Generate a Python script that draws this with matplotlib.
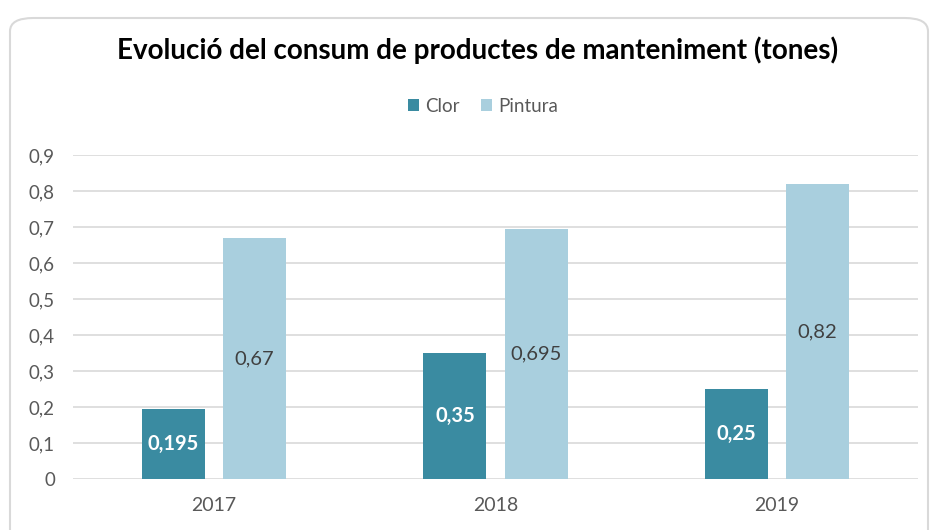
import matplotlib.pyplot as plt
from matplotlib.patches import FancyBboxPatch
import numpy as np

# --- data ---
years = ["2017", "2018", "2019"]
clor = [0.195, 0.35, 0.25]
pintura = [0.67, 0.695, 0.82]
clor_labels = ["0,195", "0,35", "0,25"]
pintura_labels = ["0,67", "0,695", "0,82"]
y_ticks = [0, 0.1, 0.2, 0.3, 0.4, 0.5, 0.6, 0.7, 0.8, 0.9]
y_tick_labels = ["0", "0,1", "0,2", "0,3", "0,4", "0,5", "0,6", "0,7", "0,8", "0,9"]

CLOR_COLOR = "#3A8BA1"
PINTURA_COLOR = "#A9CFDE"
TEXT_GRAY = "#595959"

plt.rcParams['font.family'] = ['Lato', 'DejaVu Sans']

W, H = 935, 530
fig = plt.figure(figsize=(W / 100, H / 100), dpi=100)

# rounded chart frame (cut off at the bottom of the picture)
frame = FancyBboxPatch((10 / W, -20 / H), 918 / W, 532 / H,
                       boxstyle="round,pad=0,rounding_size=0.025",
                       transform=fig.transFigure, facecolor="none",
                       edgecolor="#D9D9D9", linewidth=1.5, zorder=-1)
fig.patches.append(frame)

ax = fig.add_axes([73 / W, 1 - 479 / H, 845 / W, (479 - 155) / H])
ax.set_facecolor("none")

x = np.arange(len(years))
bw = 0.224
off = 0.144
b1 = ax.bar(x - off, clor, bw, color=CLOR_COLOR, label="Clor", zorder=3)
b2 = ax.bar(x + off, pintura, bw, color=PINTURA_COLOR, label="Pintura", zorder=3)

for rect, lab in zip(b1, clor_labels):
    ax.text(rect.get_x() + rect.get_width() / 2, rect.get_height() / 2, lab,
            ha="center", va="center", color="white", fontsize=14.5,
            fontweight="bold", zorder=4)
for rect, lab in zip(b2, pintura_labels):
    ax.text(rect.get_x() + rect.get_width() / 2, rect.get_height() / 2, lab,
            ha="center", va="center", color="#404040", fontsize=14.5, zorder=4)

ax.set_xlim(-0.5, 2.5)
ax.set_ylim(0, 0.9)
ax.set_yticks(y_ticks)
ax.set_yticklabels(y_tick_labels)
ax.set_xticks(x)
ax.set_xticklabels(years)
ax.tick_params(axis="both", length=0, colors=TEXT_GRAY)
ax.tick_params(axis="y", pad=13, labelsize=13.5)
ax.tick_params(axis="x", pad=13, labelsize=14)
ax.grid(axis="y", color="#D9D9D9", linewidth=1.2, zorder=0)
for s in ax.spines.values():
    s.set_visible(False)

fig.text(478 / W, 1 - 50 / H, "Evolució del consum de productes de manteniment (tones)",
         ha="center", va="center", fontsize=20, fontweight="bold", color="black")

fig.legend(handles=[b1, b2], labels=["Clor", "Pintura"], loc="center",
           bbox_to_anchor=(483 / W, 1 - 106 / H), ncol=2, frameon=False,
           fontsize=13.5, labelcolor=TEXT_GRAY, handlelength=0.6, handleheight=0.6,
           handletextpad=0.35, columnspacing=1.1)

fig.savefig("out.png", dpi=100)
